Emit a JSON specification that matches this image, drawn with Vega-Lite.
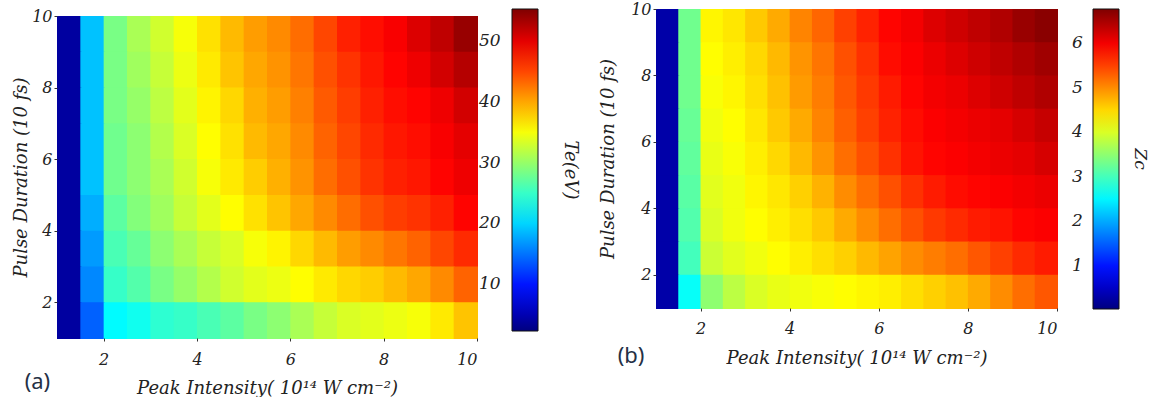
{
"$schema": "https://vega.github.io/schema/vega-lite/v6.json",
"background": "white",
"padding": {"left": 12, "top": 1, "right": 8, "bottom": 0},
"spacing": 20,
"config": {"view": {"stroke": null}},
"datasets": {
"a": [
{"x":1,"y":9,"v":4},{"x":1.5,"y":9,"v":19},{"x":2,"y":9,"v":28.5},{"x":2.5,"y":9,"v":31},{"x":3,"y":9,"v":33},{"x":3.5,"y":9,"v":35},{"x":4,"y":9,"v":37},{"x":4.5,"y":9,"v":39},{"x":5,"y":9,"v":40.5},{"x":5.5,"y":9,"v":41.5},{"x":6,"y":9,"v":43},{"x":6.5,"y":9,"v":45},{"x":7,"y":9,"v":47},{"x":7.5,"y":9,"v":48},{"x":8,"y":9,"v":49},{"x":8.5,"y":9,"v":50.5},{"x":9,"y":9,"v":52},{"x":9.5,"y":9,"v":54},
{"x":1,"y":8,"v":4},{"x":1.5,"y":8,"v":19},{"x":2,"y":8,"v":28.5},{"x":2.5,"y":8,"v":30.5},{"x":3,"y":8,"v":32.5},{"x":3.5,"y":8,"v":34.5},{"x":4,"y":8,"v":36.5},{"x":4.5,"y":8,"v":38.5},{"x":5,"y":8,"v":40},{"x":5.5,"y":8,"v":41},{"x":6,"y":8,"v":42.5},{"x":6.5,"y":8,"v":44.5},{"x":7,"y":8,"v":46},{"x":7.5,"y":8,"v":47.5},{"x":8,"y":8,"v":48.5},{"x":8.5,"y":8,"v":49.5},{"x":9,"y":8,"v":51},{"x":9.5,"y":8,"v":52.5},
{"x":1,"y":7,"v":4},{"x":1.5,"y":7,"v":19},{"x":2,"y":7,"v":28.5},{"x":2.5,"y":7,"v":30},{"x":3,"y":7,"v":32},{"x":3.5,"y":7,"v":34},{"x":4,"y":7,"v":36},{"x":4.5,"y":7,"v":37.5},{"x":5,"y":7,"v":39.5},{"x":5.5,"y":7,"v":40.5},{"x":6,"y":7,"v":42},{"x":6.5,"y":7,"v":44},{"x":7,"y":7,"v":45.5},{"x":7.5,"y":7,"v":47},{"x":8,"y":7,"v":48},{"x":8.5,"y":7,"v":48.5},{"x":9,"y":7,"v":49.5},{"x":9.5,"y":7,"v":51},
{"x":1,"y":6,"v":4},{"x":1.5,"y":6,"v":19},{"x":2,"y":6,"v":28},{"x":2.5,"y":6,"v":29.5},{"x":3,"y":6,"v":31.5},{"x":3.5,"y":6,"v":33.5},{"x":4,"y":6,"v":35.5},{"x":4.5,"y":6,"v":37},{"x":5,"y":6,"v":39},{"x":5.5,"y":6,"v":40},{"x":6,"y":6,"v":41.5},{"x":6.5,"y":6,"v":43.5},{"x":7,"y":6,"v":45},{"x":7.5,"y":6,"v":46.5},{"x":8,"y":6,"v":47.5},{"x":8.5,"y":6,"v":48},{"x":9,"y":6,"v":49},{"x":9.5,"y":6,"v":50},
{"x":1,"y":5,"v":4},{"x":1.5,"y":5,"v":19},{"x":2,"y":5,"v":28},{"x":2.5,"y":5,"v":29.5},{"x":3,"y":5,"v":31},{"x":3.5,"y":5,"v":33},{"x":4,"y":5,"v":35},{"x":4.5,"y":5,"v":36.5},{"x":5,"y":5,"v":38},{"x":5.5,"y":5,"v":39.5},{"x":6,"y":5,"v":41},{"x":6.5,"y":5,"v":43},{"x":7,"y":5,"v":44.5},{"x":7.5,"y":5,"v":46},{"x":8,"y":5,"v":47},{"x":8.5,"y":5,"v":47.5},{"x":9,"y":5,"v":48.5},{"x":9.5,"y":5,"v":49.5},
{"x":1,"y":4,"v":4},{"x":1.5,"y":4,"v":18},{"x":2,"y":4,"v":27},{"x":2.5,"y":4,"v":29},{"x":3,"y":4,"v":30.5},{"x":3.5,"y":4,"v":32.5},{"x":4,"y":4,"v":34},{"x":4.5,"y":4,"v":35.5},{"x":5,"y":4,"v":37},{"x":5.5,"y":4,"v":38.5},{"x":6,"y":4,"v":40},{"x":6.5,"y":4,"v":41.5},{"x":7,"y":4,"v":43},{"x":7.5,"y":4,"v":44.5},{"x":8,"y":4,"v":45.5},{"x":8.5,"y":4,"v":46},{"x":9,"y":4,"v":47},{"x":9.5,"y":4,"v":48.5},
{"x":1,"y":3,"v":4},{"x":1.5,"y":3,"v":17},{"x":2,"y":3,"v":26},{"x":2.5,"y":3,"v":27.5},{"x":3,"y":3,"v":29.5},{"x":3.5,"y":3,"v":31},{"x":4,"y":3,"v":32.5},{"x":4.5,"y":3,"v":33.5},{"x":5,"y":3,"v":35},{"x":5.5,"y":3,"v":36},{"x":6,"y":3,"v":37.5},{"x":6.5,"y":3,"v":39},{"x":7,"y":3,"v":40.5},{"x":7.5,"y":3,"v":41.5},{"x":8,"y":3,"v":42.5},{"x":8.5,"y":3,"v":43.5},{"x":9,"y":3,"v":45},{"x":9.5,"y":3,"v":46.5},
{"x":1,"y":2,"v":4},{"x":1.5,"y":2,"v":16},{"x":2,"y":2,"v":25},{"x":2.5,"y":2,"v":26.5},{"x":3,"y":2,"v":28.5},{"x":3.5,"y":2,"v":30},{"x":4,"y":2,"v":31.5},{"x":4.5,"y":2,"v":33},{"x":5,"y":2,"v":34},{"x":5.5,"y":2,"v":34.5},{"x":6,"y":2,"v":35.5},{"x":6.5,"y":2,"v":36.5},{"x":7,"y":2,"v":37.5},{"x":7.5,"y":2,"v":38},{"x":8,"y":2,"v":39},{"x":8.5,"y":2,"v":40},{"x":9,"y":2,"v":41.5},{"x":9.5,"y":2,"v":43.5},
{"x":1,"y":1,"v":4},{"x":1.5,"y":1,"v":14},{"x":2,"y":1,"v":22},{"x":2.5,"y":1,"v":23},{"x":3,"y":1,"v":24.5},{"x":3.5,"y":1,"v":25},{"x":4,"y":1,"v":26},{"x":4.5,"y":1,"v":27},{"x":5,"y":1,"v":28.5},{"x":5.5,"y":1,"v":29.5},{"x":6,"y":1,"v":31},{"x":6.5,"y":1,"v":32.5},{"x":7,"y":1,"v":33.5},{"x":7.5,"y":1,"v":34},{"x":8,"y":1,"v":34.5},{"x":8.5,"y":1,"v":35},{"x":9,"y":1,"v":36.5},{"x":9.5,"y":1,"v":38.5}
],
"b": [
{"x":1,"y":9,"v":0.3},{"x":1.5,"y":9,"v":3.3},{"x":2,"y":9,"v":4.3},{"x":2.5,"y":9,"v":4.4},{"x":3,"y":9,"v":4.6},{"x":3.5,"y":9,"v":4.8},{"x":4,"y":9,"v":5.05},{"x":4.5,"y":9,"v":5.25},{"x":5,"y":9,"v":5.5},{"x":5.5,"y":9,"v":5.7},{"x":6,"y":9,"v":5.9},{"x":6.5,"y":9,"v":6.0},{"x":7,"y":9,"v":6.15},{"x":7.5,"y":9,"v":6.25},{"x":8,"y":9,"v":6.35},{"x":8.5,"y":9,"v":6.45},{"x":9,"y":9,"v":6.6},{"x":9.5,"y":9,"v":6.7},
{"x":1,"y":8,"v":0.3},{"x":1.5,"y":8,"v":3.3},{"x":2,"y":8,"v":4.25},{"x":2.5,"y":8,"v":4.35},{"x":3,"y":8,"v":4.5},{"x":3.5,"y":8,"v":4.7},{"x":4,"y":8,"v":4.95},{"x":4.5,"y":8,"v":5.15},{"x":5,"y":8,"v":5.4},{"x":5.5,"y":8,"v":5.6},{"x":6,"y":8,"v":5.85},{"x":6.5,"y":8,"v":5.95},{"x":7,"y":8,"v":6.05},{"x":7.5,"y":8,"v":6.15},{"x":8,"y":8,"v":6.25},{"x":8.5,"y":8,"v":6.35},{"x":9,"y":8,"v":6.45},{"x":9.5,"y":8,"v":6.55},
{"x":1,"y":7,"v":0.3},{"x":1.5,"y":7,"v":3.3},{"x":2,"y":7,"v":4.2},{"x":2.5,"y":7,"v":4.3},{"x":3,"y":7,"v":4.45},{"x":3.5,"y":7,"v":4.65},{"x":4,"y":7,"v":4.9},{"x":4.5,"y":7,"v":5.1},{"x":5,"y":7,"v":5.35},{"x":5.5,"y":7,"v":5.55},{"x":6,"y":7,"v":5.75},{"x":6.5,"y":7,"v":5.9},{"x":7,"y":7,"v":6.0},{"x":7.5,"y":7,"v":6.05},{"x":8,"y":7,"v":6.15},{"x":8.5,"y":7,"v":6.25},{"x":9,"y":7,"v":6.35},{"x":9.5,"y":7,"v":6.45},
{"x":1,"y":6,"v":0.3},{"x":1.5,"y":6,"v":3.25},{"x":2,"y":6,"v":4.15},{"x":2.5,"y":6,"v":4.25},{"x":3,"y":6,"v":4.4},{"x":3.5,"y":6,"v":4.6},{"x":4,"y":6,"v":4.8},{"x":4.5,"y":6,"v":5.05},{"x":5,"y":6,"v":5.3},{"x":5.5,"y":6,"v":5.5},{"x":6,"y":6,"v":5.7},{"x":6.5,"y":6,"v":5.85},{"x":7,"y":6,"v":5.95},{"x":7.5,"y":6,"v":6.0},{"x":8,"y":6,"v":6.05},{"x":8.5,"y":6,"v":6.1},{"x":9,"y":6,"v":6.2},{"x":9.5,"y":6,"v":6.3},
{"x":1,"y":5,"v":0.3},{"x":1.5,"y":5,"v":3.2},{"x":2,"y":5,"v":4.1},{"x":2.5,"y":5,"v":4.2},{"x":3,"y":5,"v":4.35},{"x":3.5,"y":5,"v":4.5},{"x":4,"y":5,"v":4.7},{"x":4.5,"y":5,"v":4.95},{"x":5,"y":5,"v":5.2},{"x":5.5,"y":5,"v":5.4},{"x":6,"y":5,"v":5.6},{"x":6.5,"y":5,"v":5.8},{"x":7,"y":5,"v":5.9},{"x":7.5,"y":5,"v":5.95},{"x":8,"y":5,"v":6.0},{"x":8.5,"y":5,"v":6.05},{"x":9,"y":5,"v":6.1},{"x":9.5,"y":5,"v":6.2},
{"x":1,"y":4,"v":0.3},{"x":1.5,"y":4,"v":3.15},{"x":2,"y":4,"v":4.05},{"x":2.5,"y":4,"v":4.15},{"x":3,"y":4,"v":4.3},{"x":3.5,"y":4,"v":4.4},{"x":4,"y":4,"v":4.55},{"x":4.5,"y":4,"v":4.75},{"x":5,"y":4,"v":5.0},{"x":5.5,"y":4,"v":5.2},{"x":6,"y":4,"v":5.4},{"x":6.5,"y":4,"v":5.6},{"x":7,"y":4,"v":5.75},{"x":7.5,"y":4,"v":5.85},{"x":8,"y":4,"v":5.9},{"x":8.5,"y":4,"v":5.95},{"x":9,"y":4,"v":6.0},{"x":9.5,"y":4,"v":6.05},
{"x":1,"y":3,"v":0.3},{"x":1.5,"y":3,"v":3.1},{"x":2,"y":3,"v":4.0},{"x":2.5,"y":3,"v":4.15},{"x":3,"y":3,"v":4.25},{"x":3.5,"y":3,"v":4.35},{"x":4,"y":3,"v":4.45},{"x":4.5,"y":3,"v":4.6},{"x":5,"y":3,"v":4.8},{"x":5.5,"y":3,"v":5.0},{"x":6,"y":3,"v":5.2},{"x":6.5,"y":3,"v":5.4},{"x":7,"y":3,"v":5.55},{"x":7.5,"y":3,"v":5.65},{"x":8,"y":3,"v":5.75},{"x":8.5,"y":3,"v":5.8},{"x":9,"y":3,"v":5.9},{"x":9.5,"y":3,"v":5.95},
{"x":1,"y":2,"v":0.3},{"x":1.5,"y":2,"v":3.0},{"x":2,"y":2,"v":3.9},{"x":2.5,"y":2,"v":4.05},{"x":3,"y":2,"v":4.15},{"x":3.5,"y":2,"v":4.25},{"x":4,"y":2,"v":4.35},{"x":4.5,"y":2,"v":4.45},{"x":5,"y":2,"v":4.55},{"x":5.5,"y":2,"v":4.7},{"x":6,"y":2,"v":4.85},{"x":6.5,"y":2,"v":5.0},{"x":7,"y":2,"v":5.1},{"x":7.5,"y":2,"v":5.2},{"x":8,"y":2,"v":5.35},{"x":8.5,"y":2,"v":5.5},{"x":9,"y":2,"v":5.65},{"x":9.5,"y":2,"v":5.75},
{"x":1,"y":1,"v":0.3},{"x":1.5,"y":1,"v":2.6},{"x":2,"y":1,"v":3.5},{"x":2.5,"y":1,"v":3.8},{"x":3,"y":1,"v":4.0},{"x":3.5,"y":1,"v":4.1},{"x":4,"y":1,"v":4.15},{"x":4.5,"y":1,"v":4.2},{"x":5,"y":1,"v":4.25},{"x":5.5,"y":1,"v":4.3},{"x":6,"y":1,"v":4.35},{"x":6.5,"y":1,"v":4.45},{"x":7,"y":1,"v":4.55},{"x":7.5,"y":1,"v":4.65},{"x":8,"y":1,"v":4.8},{"x":8.5,"y":1,"v":5.0},{"x":9,"y":1,"v":5.2},{"x":9.5,"y":1,"v":5.35}
]
},
"hconcat": [
{
"spacing": -2,
"vconcat": [
{"width": 10, "height": 1, "data": {"values": []}, "mark": "point", "encoding": {}},
{
"width": 420, "height": 322,
"data": {"name": "a"},
"title": {"text": "(a)", "orient": "bottom", "anchor": "start", "font": "Noto Sans", "fontSize": 22, "fontWeight": "normal", "color": "#253045", "offset": -25, "dx": 12},
"mark": {"type": "rect", "binSpacing": -1},
"encoding": {
"x": {"field": "x", "type": "quantitative", "bin": {"binned": true, "step": 0.5},
"scale": {"domain": [1, 10], "nice": false, "zero": false},
"axis": {"values": [2,4,6,8,10], "format": "d", "domain": false, "ticks": true, "tickSize": 3, "tickColor": "#333", "grid": false, "labelPadding": 10, "labelFont": "DejaVu Serif", "labelFontStyle": "italic", "labelFontSize": 16, "labelColor": "#222", "title": "Peak Intensity( 10¹⁴ W cm⁻²)", "titleFont": "DejaVu Serif", "titleFontStyle": "italic", "titleFontWeight": "normal", "titleFontSize": 18, "titleColor": "#222", "titlePadding": 12}},
"y": {"field": "y", "type": "quantitative", "bin": {"binned": true, "step": 1},
"scale": {"domain": [1, 10], "nice": false, "zero": false},
"axis": {"values": [2,4,6,8,10], "format": "d", "domain": false, "ticks": true, "tickSize": 3, "tickColor": "#333", "grid": false, "labelPadding": 2, "labelFont": "DejaVu Serif", "labelFontStyle": "italic", "labelFontSize": 16, "labelColor": "#222", "title": "Pulse Duration (10 fs)", "titleFont": "DejaVu Serif", "titleFontStyle": "italic", "titleFontWeight": "normal", "titleFontSize": 18, "titleColor": "#222", "titlePadding": 1}},
"fill": {"field": "v", "type": "quantitative",
"scale": {"domain": [2.3, 8.925, 15.55, 22.175, 28.8, 35.425, 42.05, 48.675, 55.3], "range": ["#00007f","#0000ff","#007fff","#00ffff","#7fff7f","#ffff00","#ff7f00","#ff0000","#7f0000"], "interpolate": "rgb"},
"legend": {"type": "gradient", "orient": "right", "offset": 34, "direction": "vertical", "gradientLength": 322, "gradientThickness": 26, "gradientStrokeColor": "#111", "gradientStrokeWidth": 1, "values": [10,20,30,40,50], "format": "d", "labelOffset": -59, "labelOverlap": false, "labelFont": "DejaVu Serif", "labelFontStyle": "italic", "labelFontSize": 17, "labelColor": "#222", "title": "Te(eV)", "titleOrient": "right", "titleAngle": 90, "titleAnchor": "middle", "titlePadding": 22, "titleFont": "DejaVu Serif", "titleFontStyle": "italic", "titleFontWeight": "normal", "titleFontSize": 18, "titleColor": "#222"}}
}
}
]
},
{
"width": 401, "height": 299,
"data": {"name": "b"},
"title": {"text": "(b)", "orient": "bottom", "anchor": "start", "font": "Noto Sans", "fontSize": 22, "fontWeight": "normal", "color": "#253045", "offset": -21, "dx": 18},
"mark": {"type": "rect", "binSpacing": -1},
"encoding": {
"x": {"field": "x", "type": "quantitative", "bin": {"binned": true, "step": 0.5},
"scale": {"domain": [1, 10], "nice": false, "zero": false},
"axis": {"values": [2,4,6,8,10], "format": "d", "domain": false, "ticks": true, "tickSize": 3, "tickColor": "#333", "grid": false, "labelPadding": 9, "labelFont": "DejaVu Serif", "labelFontStyle": "italic", "labelFontSize": 16, "labelColor": "#222", "title": "Peak Intensity( 10¹⁴ W cm⁻²)", "titleFont": "DejaVu Serif", "titleFontStyle": "italic", "titleFontWeight": "normal", "titleFontSize": 18, "titleColor": "#222", "titlePadding": 13}},
"y": {"field": "y", "type": "quantitative", "bin": {"binned": true, "step": 1},
"scale": {"domain": [1, 10], "nice": false, "zero": false},
"axis": {"values": [2,4,6,8,10], "format": "d", "domain": false, "ticks": true, "tickSize": 3, "tickColor": "#333", "grid": false, "labelPadding": 2, "labelFont": "DejaVu Serif", "labelFontStyle": "italic", "labelFontSize": 16, "labelColor": "#222", "title": "Pulse Duration (10 fs)", "titleFont": "DejaVu Serif", "titleFontStyle": "italic", "titleFontWeight": "normal", "titleFontSize": 18, "titleColor": "#222", "titlePadding": 13}},
"fill": {"field": "v", "type": "quantitative",
"scale": {"domain": [0.03, 0.8725, 1.715, 2.5575, 3.4, 4.2425, 5.085, 5.9275, 6.77], "range": ["#00007f","#0000ff","#007fff","#00ffff","#7fff7f","#ffff00","#ff7f00","#ff0000","#7f0000"], "interpolate": "rgb"},
"legend": {"type": "gradient", "orient": "right", "offset": 36, "direction": "vertical", "gradientLength": 300, "gradientThickness": 26, "gradientStrokeColor": "#111", "gradientStrokeWidth": 1, "values": [1,2,3,4,5,6], "format": "d", "labelOffset": -47, "labelOverlap": false, "labelFont": "DejaVu Serif", "labelFontStyle": "italic", "labelFontSize": 17, "labelColor": "#222", "title": "Zc", "titleOrient": "right", "titleAngle": 90, "titleAnchor": "middle", "titlePadding": 11, "titleFont": "DejaVu Serif", "titleFontStyle": "italic", "titleFontWeight": "normal", "titleFontSize": 17, "titleColor": "#222"}}
}
}
],
"resolve": {"scale": {"fill": "independent"}, "legend": {"fill": "independent"}}
}
